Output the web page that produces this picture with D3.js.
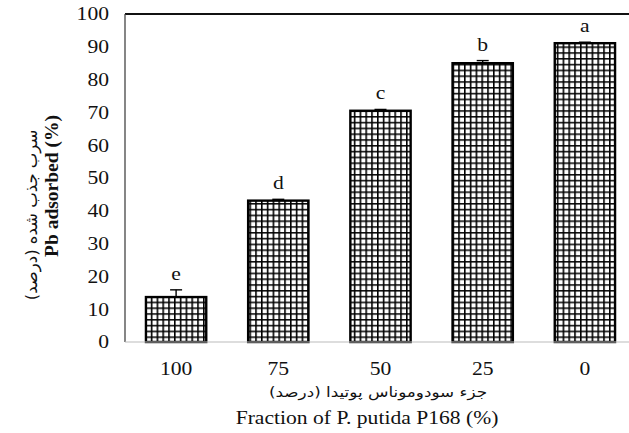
<!DOCTYPE html>
<html>
<head>
<meta charset="utf-8">
<script src="https://cdn.jsdelivr.net/npm/d3@7"></script>
<style>
  body { margin: 0; background: #fff; }
  svg text { font-family: "Liberation Serif", "DejaVu Serif", serif; fill: #111; }
  .fa { font-family: "DejaVu Sans", "Noto Sans", sans-serif; }
</style>
</head>
<body>
<svg width="629" height="433"></svg>
<script>
// values
var categories = ["100", "75", "50", "25", "0"];
var adsorbed = [13.7, 43.1, 70.5, 85.0, 91.1];
var errors = [2.2, 0.4, 0.4, 0.8, 0.3];
var letters = ["e", "d", "c", "b", "a"];
var yTicks = [0, 10, 20, 30, 40, 50, 60, 70, 80, 90, 100];

var svg = d3.select("svg");
// note: "top" is taken by window.top, so use plot* names
var plotLeft = 125, plotRight = 636, plotTop = 14, plotBottom = 342;
var stretch = 1.2; // the original picture is a bit wider than tall

var x = d3.scaleBand()
    .domain(categories)
    .range([plotLeft, plotRight])
    .paddingInner(0.41)
    .paddingOuter(0.205);

var y = d3.scaleLinear()
    .domain([0, 100])
    .range([plotBottom, plotTop]);

function place(px, py) {
    return "translate(" + px + "," + py + ") scale(" + stretch + ",1)";
}

// grid hatch fill
var pat = svg.append("defs").append("pattern")
    .attr("id", "grid")
    .attr("patternUnits", "userSpaceOnUse")
    .attr("width", 5.8)
    .attr("height", 5.8);
pat.append("rect").attr("width", 5.8).attr("height", 5.8).attr("fill", "#fff");
pat.append("line").attr("x1", 0.8).attr("x2", 0.8).attr("y1", 0).attr("y2", 5.8)
    .attr("stroke", "#000").attr("stroke-width", 1.6);
pat.append("line").attr("y1", 0.8).attr("y2", 0.8).attr("x1", 0).attr("x2", 5.8)
    .attr("stroke", "#000").attr("stroke-width", 1.5);

// frame: top line, left axis
svg.append("line")
    .attr("x1", plotLeft).attr("x2", 629)
    .attr("y1", y(100)).attr("y2", y(100))
    .attr("stroke", "#111").attr("stroke-width", 2.2);
svg.append("line")
    .attr("x1", plotLeft).attr("x2", plotLeft)
    .attr("y1", y(100)).attr("y2", plotBottom)
    .attr("stroke", "#444").attr("stroke-width", 1.3);

// y tick labels (no tick marks)
svg.append("g").selectAll("text")
    .data(yTicks)
    .enter().append("text")
    .attr("transform", function(d) { return place(109, y(d)); })
    .attr("dy", "0.35em")
    .attr("text-anchor", "end")
    .attr("font-size", 18)
    .text(function(d) { return d; });

// bars
svg.append("g").selectAll("rect")
    .data(adsorbed)
    .enter().append("rect")
    .attr("x", function(d, i) { return x(categories[i]); })
    .attr("y", function(d) { return y(d); })
    .attr("width", x.bandwidth())
    .attr("height", function(d) { return plotBottom - y(d); })
    .attr("fill", "url(#grid)")
    .attr("stroke", "#000")
    .attr("stroke-width", 2.4);

svg.append("line")
    .attr("x1", plotLeft).attr("x2", 629)
    .attr("y1", plotBottom).attr("y2", plotBottom)
    .attr("stroke", "#bbb").attr("stroke-width", 1.2);

// error bars (upper half only)
var eb = svg.append("g").attr("stroke", "#000").attr("stroke-width", 1.4);
adsorbed.forEach(function(d, i) {
    var cx = x(categories[i]) + x.bandwidth() / 2;
    eb.append("line")
        .attr("x1", cx).attr("x2", cx)
        .attr("y1", y(d)).attr("y2", y(d + errors[i]));
    eb.append("line")
        .attr("x1", cx - 6).attr("x2", cx + 6)
        .attr("y1", y(d + errors[i])).attr("y2", y(d + errors[i]));
});

// significance letters
svg.append("g").selectAll("text")
    .data(letters)
    .enter().append("text")
    .attr("transform", function(d, i) {
        return place(x(categories[i]) + x.bandwidth() / 2, y(adsorbed[i] + errors[i]) - 10);
    })
    .attr("text-anchor", "middle")
    .attr("font-size", 18)
    .text(function(d) { return d; });

// x tick labels
svg.append("g").selectAll("text")
    .data(categories)
    .enter().append("text")
    .attr("transform", function(d) { return place(x(d) + x.bandwidth() / 2, 375); })
    .attr("text-anchor", "middle")
    .attr("font-size", 18)
    .text(function(d) { return d; });

// axis titles
svg.append("text")
    .attr("class", "fa")
    .attr("transform", place(378, 397))
    .attr("text-anchor", "middle")
    .attr("font-size", 14)
    .attr("direction", "rtl")
    .text("جزء سودوموناس پوتیدا (درصد)");

svg.append("text")
    .attr("transform", place(367, 424))
    .attr("text-anchor", "middle")
    .attr("font-size", 18)
    .text("Fraction of P. putida P168 (%)");

svg.append("text")
    .attr("transform", "translate(58,186) rotate(-90)")
    .attr("text-anchor", "middle")
    .attr("font-size", 19.5)
    .attr("font-weight", "bold")
    .text("Pb adsorbed (%)");

svg.append("text")
    .attr("class", "fa")
    .attr("transform", "translate(37,215) rotate(-90)")
    .attr("text-anchor", "middle")
    .attr("font-size", 16.5)
    .attr("direction", "rtl")
    .text("سرب جذب شده (درصد)");
</script>
</body>
</html>
